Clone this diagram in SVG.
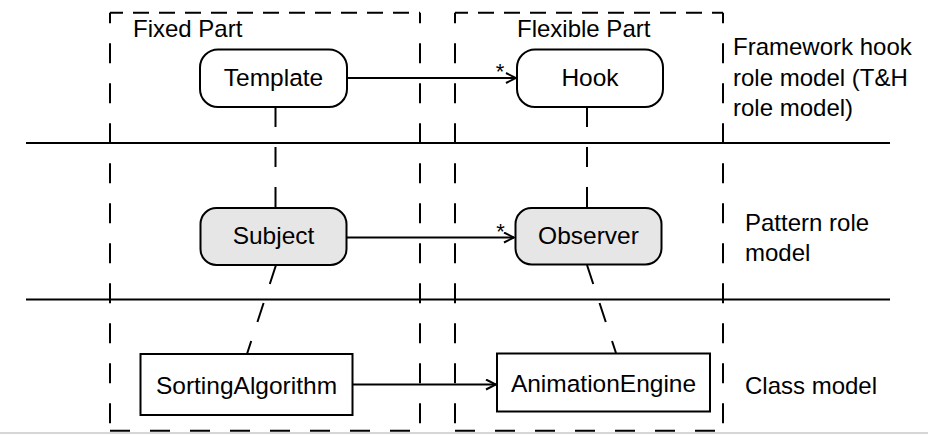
<svg xmlns="http://www.w3.org/2000/svg" width="928" height="436" viewBox="0 0 928 436">
<style>
text{font-family:"Liberation Sans",Arial,sans-serif;font-size:24.5px;fill:#000}
.lbl{font-size:24px}
.star{font-size:22px}
.node{stroke:#000;stroke-width:2;fill:#fff}
.role{fill:#e6e6e6}
.dv{stroke:#000;stroke-width:2;stroke-dasharray:20 20;stroke-dashoffset:9.4;fill:none}
.dt{stroke:#000;stroke-width:2;stroke-dasharray:16 10;stroke-dashoffset:3;fill:none}
.db{stroke:#000;stroke-width:2;stroke-dasharray:20 20;fill:none}
.sep{stroke:#000;stroke-width:2}
.trace{stroke:#000;stroke-width:2;stroke-dasharray:20 20;fill:none}
.assoc{stroke:#000;stroke-width:2;fill:none;marker-end:url(#open)}
</style>
<defs>
<marker id="open" viewBox="0 0 12 12" refX="11" refY="6" markerWidth="12" markerHeight="12" markerUnits="userSpaceOnUse" orient="auto">
<path d="M1,1 L11,6 L1,11" fill="none" stroke="#000" stroke-width="2"/>
</marker>
</defs>
<rect width="928" height="436" fill="#fff"/>
<line x1="0" y1="433" x2="928" y2="433" stroke="#c8c8c8" stroke-width="1.5"/>
<g id="fixed-part">
<line class="dt" x1="110" y1="12.7" x2="420" y2="12.7"/>
<line class="db" x1="110" y1="430.7" x2="420" y2="430.7"/>
<line class="dv" x1="110" y1="12.7" x2="110" y2="430.7"/>
<line class="dv" x1="420" y1="12.7" x2="420" y2="430.7"/>
<text class="lbl" x="133" y="37">Fixed Part</text>
</g>
<g id="flexible-part">
<line class="dt" x1="455" y1="12.7" x2="723" y2="12.7"/>
<line class="db" x1="455" y1="430.7" x2="723" y2="430.7"/>
<line class="dv" x1="455" y1="12.7" x2="455" y2="430.7"/>
<line class="dv" x1="723" y1="12.7" x2="723" y2="430.7"/>
<text class="lbl" x="517" y="37">Flexible Part</text>
</g>
<g id="separators">
<line class="sep" x1="26" y1="143" x2="890" y2="143"/>
<line class="sep" x1="26" y1="299.5" x2="890" y2="299.5"/>
</g>
<g id="layer-labels">
<text class="lbl" x="733" y="55">Framework hook</text>
<text class="lbl" x="733" y="86">role model (T&amp;H</text>
<text class="lbl" x="733" y="116">role model)</text>
<text class="lbl" x="745" y="231">Pattern role</text>
<text class="lbl" x="745" y="261">model</text>
<text class="lbl" x="745" y="394">Class model</text>
</g>
<g id="connectors">
<line class="trace" x1="275.5" y1="107" x2="275.5" y2="208"/>
<line class="trace" x1="587" y1="107" x2="587" y2="208"/>
<line class="trace" x1="276" y1="265" x2="247" y2="354"/>
<line class="trace" x1="587" y1="265" x2="616" y2="353"/>
<line class="assoc" x1="347" y1="78" x2="516" y2="78"/>
<text class="star" x="500" y="78.5" text-anchor="middle">*</text>
<line class="assoc" x1="347" y1="237.5" x2="514" y2="237.5"/>
<text class="star" x="500.5" y="239" text-anchor="middle">*</text>
<line class="assoc" x1="352" y1="384.5" x2="496" y2="384.5"/>
</g>
<g id="template">
<rect class="node" x="200" y="49.5" width="147" height="57.5" rx="18"/>
<text x="273.5" y="86" text-anchor="middle">Template</text>
</g>
<g id="hook">
<rect class="node" x="517" y="49.5" width="146" height="57.5" rx="18"/>
<text x="590" y="86" text-anchor="middle">Hook</text>
</g>
<g id="subject">
<rect class="node role" x="200.5" y="208" width="146" height="57" rx="16"/>
<text x="273.5" y="244" text-anchor="middle">Subject</text>
</g>
<g id="observer">
<rect class="node role" x="515.5" y="208" width="146" height="56.5" rx="16"/>
<text x="588.5" y="244" text-anchor="middle">Observer</text>
</g>
<g id="sortingalgorithm">
<rect class="node" x="140.5" y="354" width="212" height="61"/>
<text x="246.5" y="393.5" text-anchor="middle">SortingAlgorithm</text>
</g>
<g id="animationengine">
<rect class="node" x="497" y="353.5" width="213" height="58"/>
<text x="603.5" y="391.5" text-anchor="middle">AnimationEngine</text>
</g>
</svg>
